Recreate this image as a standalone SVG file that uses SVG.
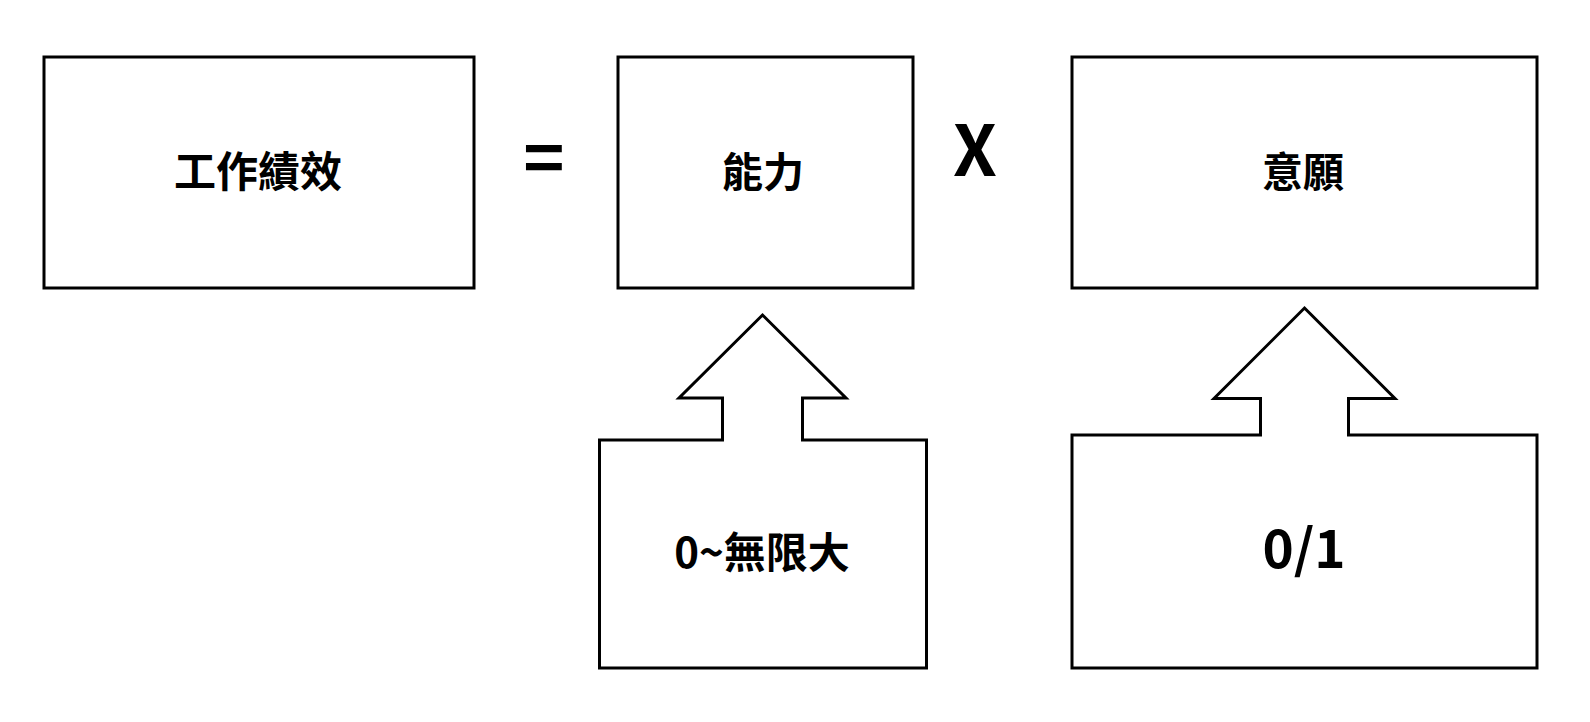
<svg xmlns="http://www.w3.org/2000/svg" width="1590" height="722" viewBox="0 0 1590 722">
  <style>
    .box { fill: #ffffff; stroke: #000000; stroke-width: 3; }
    .lbl { font-family: "Noto Sans CJK TC", "Noto Sans", sans-serif; font-weight: bold; fill: #000000; text-anchor: middle; }
  </style>
  <rect width="1590" height="722" fill="#ffffff"/>
  <g id="performance">
    <rect class="box" x="44" y="57" width="430" height="231"/>
    <text class="lbl" x="258" y="187" font-size="42">工作績效</text>
  </g>
  <g id="equals">
    <text class="lbl" x="544" y="184" font-size="70">=</text>
  </g>
  <g id="ability">
    <rect class="box" x="618" y="57" width="295" height="231"/>
    <text class="lbl" x="763" y="187" font-size="41">能力</text>
  </g>
  <g id="times">
    <text class="lbl" x="975" y="176" font-size="70">X</text>
  </g>
  <g id="willingness">
    <rect class="box" x="1072" y="57" width="465" height="231"/>
    <text class="lbl" x="1303" y="187" font-size="41">意願</text>
  </g>
  <g id="connectors">
    <g id="ability-range">
      <path class="box" d="M762.5,315 L846,398 L802.5,398 L802.5,440 L926.5,440 L926.5,668 L599.5,668 L599.5,440 L722.5,440 L722.5,398 L679,398 Z"/>
      <text class="lbl" x="762" y="568" font-size="42">0~無限大</text>
    </g>
    <g id="willingness-range">
      <path class="box" d="M1304.5,308 L1395,398.5 L1348.5,398.5 L1348.5,435 L1537,435 L1537,668 L1072,668 L1072,435 L1260.5,435 L1260.5,398.5 L1214,398.5 Z"/>
      <text class="lbl" x="1304" y="568" font-size="53">0/1</text>
    </g>
  </g>
</svg>
